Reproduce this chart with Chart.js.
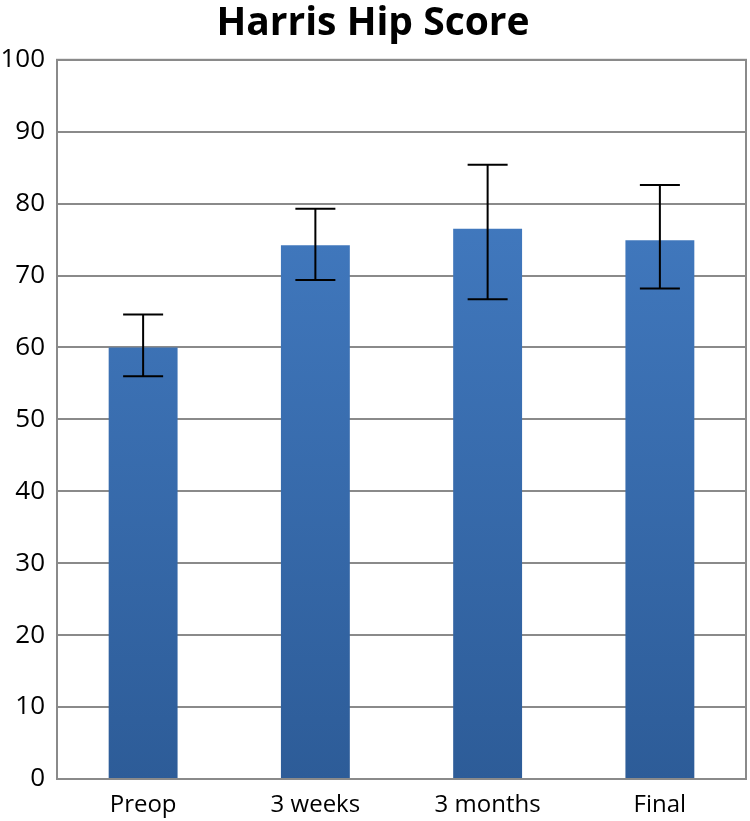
<!DOCTYPE html>
<html lang="en">
  <head>
    <meta charset="UTF-8" />
    <title>Harris Hip Score</title>
    <script src="https://cdn.jsdelivr.net/npm/chart.js@4.4.1/dist/chart.umd.min.js"></script>
    <style>
      body {
        margin: 0;
        background: #fff;
      }
    </style>
  </head>
  <body>
    <canvas id="hipChart" width="750" height="821"></canvas>

    <script>
      const categories = ["Preop", "3 weeks", "3 months", "Final"];
      const scores = [60.0, 74.2, 76.5, 74.9];
      const errHigh = [64.6, 79.3, 85.4, 82.6];
      const errLow = [56.0, 69.4, 66.7, 68.2];

      const lineGray = "#8a8a8a";

      function barGradient(context) {
        const chart = context.chart;
        const area = chart.chartArea;
        if (!area) return "#3b72b8";
        const g = chart.ctx.createLinearGradient(0, area.top, 0, area.bottom);
        g.addColorStop(0, "#4680c8");
        g.addColorStop(1, "#2d5c98");
        return g;
      }

      // draws the error bars and the closing box of the plot area
      const errorBars = {
        id: "errorBars",
        afterDatasetsDraw(chart) {
          const ctx = chart.ctx;
          const x = chart.scales.x;
          const y = chart.scales.y;
          const area = chart.chartArea;
          ctx.save();
          ctx.strokeStyle = lineGray;
          ctx.lineWidth = 2;
          ctx.strokeRect(area.left, area.top, area.right - area.left, area.bottom - area.top);

          ctx.strokeStyle = "#000";
          ctx.lineWidth = 2;
          const cap = 20;
          for (let i = 0; i < categories.length; i++) {
            const cx = x.getPixelForValue(i);
            const hi = y.getPixelForValue(errHigh[i]);
            const lo = y.getPixelForValue(errLow[i]);
            ctx.beginPath();
            ctx.moveTo(cx, hi);
            ctx.lineTo(cx, lo);
            ctx.moveTo(cx - cap, hi);
            ctx.lineTo(cx + cap, hi);
            ctx.moveTo(cx - cap, lo);
            ctx.lineTo(cx + cap, lo);
            ctx.stroke();
          }
          ctx.restore();
        },
      };

      new Chart(document.getElementById("hipChart"), {
        type: "bar",
        data: {
          labels: categories,
          datasets: [
            {
              data: scores,
              backgroundColor: barGradient,
              borderWidth: 0,
              categoryPercentage: 1,
              barPercentage: 0.4,
            },
          ],
        },
        options: {
          responsive: false,
          animation: false,
          layout: { padding: { left: 0, right: 4, top: 0, bottom: 0 } },
          plugins: {
            legend: { display: false },
            tooltip: { enabled: false },
            title: {
              display: true,
              text: "Harris Hip Score",
              color: "#000",
              font: { family: "'Open Sans', sans-serif", size: 39, weight: "bold" },
              padding: { top: 0, bottom: 13 },
            },
          },
          scales: {
            x: {
              grid: { display: false },
              border: { color: lineGray, width: 2 },
              ticks: {
                color: "#000",
                font: { family: "'Open Sans', sans-serif", size: 24 },
                padding: 4,
              },
              afterFit(scale) {
                scale.height = 42;
              },
            },
            y: {
              min: 0,
              max: 100,
              ticks: {
                stepSize: 10,
                color: "#000",
                font: { family: "'Open Sans', sans-serif", size: 26 },
                padding: 12,
              },
              grid: { color: lineGray, lineWidth: 2, drawTicks: false },
              border: { color: lineGray, width: 2 },
              afterFit(scale) {
                scale.width = 57;
              },
            },
          },
        },
        plugins: [errorBars],
      });
    </script>
  </body>
</html>
